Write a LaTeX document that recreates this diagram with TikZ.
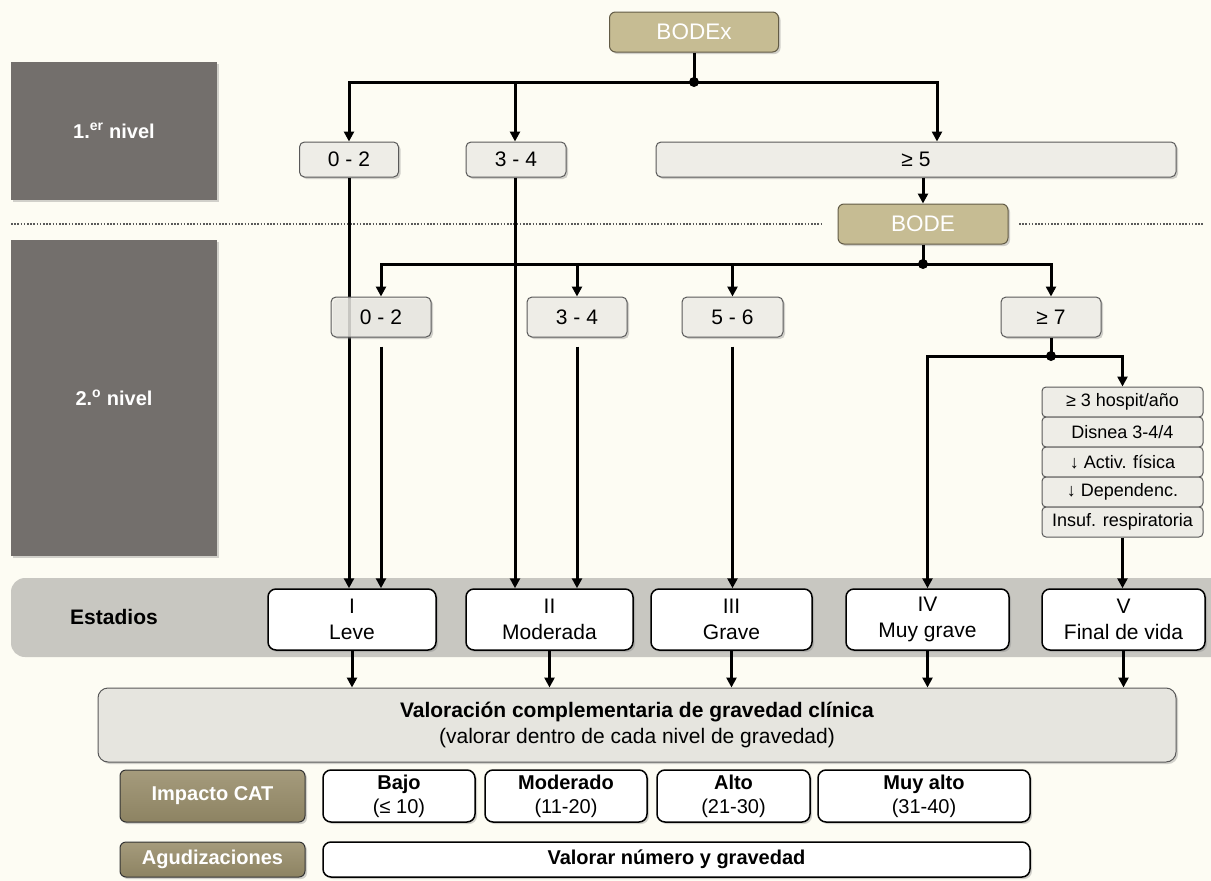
\documentclass[tikz,border=0pt]{standalone}
\usepackage{fontspec}
\setmainfont{Liberation Sans}
\usetikzlibrary{arrows.meta,shadows,calc}
\definecolor{bgc}{HTML}{FDFCF3}
\definecolor{panel}{HTML}{736F6C}
\definecolor{tanc}{HTML}{C6BC93}
\definecolor{tanb}{HTML}{625B46}
\definecolor{dtan}{HTML}{8D8362}
\definecolor{dtanl}{HTML}{A59B7C}
\definecolor{lbox}{HTML}{EEEDE7}
\definecolor{bandc}{HTML}{C8C7C1}
\definecolor{valc}{HTML}{E6E5DF}
\begin{document}
\begin{tikzpicture}[x=1pt,y=-1pt,
  shd/.style={drop shadow={opacity=0.35,shadow xshift=2pt,shadow yshift=-2pt}},
  panelbox/.style={fill=panel,inner sep=0pt,text=white,font=\fontsize{20}{24}\selectfont\bfseries,shd},
  tanbox/.style={fill=tanc,draw=tanb,line width=1pt,rounded corners=6pt,inner sep=0pt,text=white,font=\fontsize{22.5}{26}\selectfont,shd},
  dtanbox/.style={top color=dtanl,bottom color=dtan,draw=black!80,line width=1pt,rounded corners=6pt,inner sep=0pt,text=white,font=\fontsize{20}{24}\selectfont\bfseries,shd},
  lvl/.style={fill=lbox,draw=black!65,line width=1pt,rounded corners=5pt,inner sep=0pt,font=\fontsize{21}{25}\selectfont,shd},
  item/.style={fill=lbox,draw=black!65,line width=1pt,rounded corners=4pt,inner sep=0pt,font=\fontsize{18}{21}\selectfont,minimum width=161pt,minimum height=30pt},
  stage/.style={fill=white,draw=black,line width=1.5pt,rounded corners=8pt,inner sep=0pt,align=center,font=\fontsize{21}{26}\selectfont,minimum height=61pt,shd},
  cat/.style={fill=white,draw=black,line width=1.5pt,rounded corners=8pt,inner sep=0pt,align=center,font=\fontsize{20}{24}\selectfont,shd},
  conn/.style={line width=3pt,black},
  arr/.style={conn,-{Triangle[length=10pt,width=10pt]}},
  dots/.style={line width=2.4pt,black!65,dash pattern=on 1.6pt off 1.6pt}
]
\useasboundingbox (0,0) rectangle (1211,881);
\fill[bgc] (0,0) rectangle (1211,881);

% left panels
\node[panelbox,minimum width=206pt,minimum height=138pt] (p1) at (114,131) {1.\textsuperscript{er} nivel};
\node[panelbox,minimum width=206pt,minimum height=316pt] (p2) at (114,398) {2.\textsuperscript{o} nivel};

% dotted separators
\coordinate (d1) at (11,224);
\coordinate (d2) at (822,224);
\coordinate (d3) at (1019,224);
\coordinate (d4) at (1203,224);
\draw[dots] (d1) -- (d2);
\draw[dots] (d3) -- (d4);

% Estadios band
\fill[bandc,rounded corners=14pt] (11,578) rectangle (1240,657);
\node[font=\fontsize{21}{25}\selectfont\bfseries] (est) at (114,617) {Estadios};

% top
\node[tanbox,minimum width=169pt,minimum height=40pt] (bodex) at (694,32) {BODEx};
\node[lvl,minimum width=99pt,minimum height=35pt] (a02) at (349,159.5) {0 - 2};
\node[lvl,minimum width=100pt,minimum height=35pt] (a34) at (516,159.5) {3 - 4};
\node[lvl,minimum width=520pt,minimum height=35pt] (a5) at (916,159.5) {≥ 5};
\node[tanbox,minimum width=170pt,minimum height=40pt] (bode) at (923,224) {BODE};

% stages
\node[stage,minimum width=168pt] (s1) at (352,619.5) {I\\Leve};
\node[stage,minimum width=167pt] (s2) at (549.5,619.5) {II\\Moderada};
\node[stage,minimum width=161pt] (s3) at (731.5,619.5) {III\\Grave};
\node[stage,minimum width=163pt] (s4) at (927.5,619.5) {IV\\Muy grave};
\node[stage,minimum width=163pt] (s5) at (1123.5,619.5) {V\\Final de vida};

% long lines from level 1
\draw[arr] (a02.south) -- (a02.south |- s1.north);
\draw[arr] (a34.south -| 515,0) -- (515,0 |- s2.north);

% level 1 connectors
\coordinate (j1) at (694,82);
\draw[conn] (bodex.south) -- (j1);
\draw[arr] (j1) -| (a02.north);
\draw[arr] (j1) -| (a34.north -| 515,0);
\draw[arr] (j1) -| (a5.north -| 937,0);
\fill (j1) circle (5pt);
\draw[arr] (a5.south -| bode.north) -- (bode.north);

% level 2 boxes
\node[lvl,minimum width=100pt,minimum height=40pt,fill opacity=0.8,text opacity=1] (b02) at (381,317) {0 - 2};
\node[lvl,minimum width=100pt,minimum height=40pt] (b34) at (577,317) {3 - 4};
\node[lvl,minimum width=101pt,minimum height=40pt] (b56) at (732.5,317) {5 - 6};
\node[lvl,minimum width=100pt,minimum height=40pt] (b7) at (1051,317) {≥ 7};

\coordinate (j2) at (923,264);
\draw[conn] (bode.south) -- (j2);
\draw[arr] (j2) -| (b02.north);
\draw[arr] (j2) -| (b34.north);
\draw[arr] (j2) -| (b56.north);
\draw[arr] (j2) -| (b7.north);
\fill (j2) circle (5pt);

\draw[arr] ($(b02.south)+(0,9)$) -- (b02.south |- s1.north);
\draw[arr] ($(b34.south)+(0,9)$) -- (b34.south |- s2.north);
\draw[arr] ($(b56.south)+(0,9)$) -- (b56.south |- s3.north);

% >=7 branch
\node[item] (l1) at (1122.5,402) {≥ 3 hospit/año};
\node[item] (l2) at (1122.5,432) {Disnea 3-4/4};
\node[item] (l3) at (1122.5,462) {↓ Activ. física};
\node[item] (l4) at (1122.5,492) {↓ Dependenc.};
\node[item] (l5) at (1122.5,522) {Insuf. respiratoria};
\coordinate (j3) at (1051,356);
\draw[conn] (b7.south) -- (j3);
\draw[arr] (j3) -| (s4.north);
\draw[arr] (j3) -| (l1.north);
\fill (j3) circle (5pt);
\draw[arr] (l5.south) -- (l5.south |- s5.north);

% valoracion
\node[fill=valc,draw=black!65,line width=1pt,rounded corners=10pt,inner sep=0pt,align=center,
  minimum width=1078pt,minimum height=74pt,font=\fontsize{21}{26}\selectfont,shd] (val) at (637,725)
  {\textbf{Valoración complementaria de gravedad clínica}\\(valorar dentro de cada nivel de gravedad)};
\foreach \s in {s1,s2,s3,s4,s5}{
  \draw[arr] (\s.south) -- (\s.south |- val.north);
}

% CAT row
\node[dtanbox,minimum width=185pt,minimum height=52pt] (imp) at (212.5,796) {Impacto CAT};
\node[cat,minimum width=152pt,minimum height=52pt] (c1) at (399,796) {\textbf{Bajo}\\(≤ 10)};
\node[cat,minimum width=162pt,minimum height=52pt] (c2) at (566,796) {\textbf{Moderado}\\(11-20)};
\node[cat,minimum width=153pt,minimum height=52pt] (c3) at (733.5,796) {\textbf{Alto}\\(21-30)};
\node[cat,minimum width=212pt,minimum height=52pt] (c4) at (924,796) {\textbf{Muy alto}\\(31-40)};

\node[dtanbox,minimum width=185pt,minimum height=35pt] (agu) at (212.5,859.5) {Agudizaciones};
\node[cat,minimum width=707pt,minimum height=35pt,font=\fontsize{20}{24}\selectfont\bfseries] (vn) at (676.5,859.5) {Valorar número y gravedad};
\end{tikzpicture}
\end{document}
